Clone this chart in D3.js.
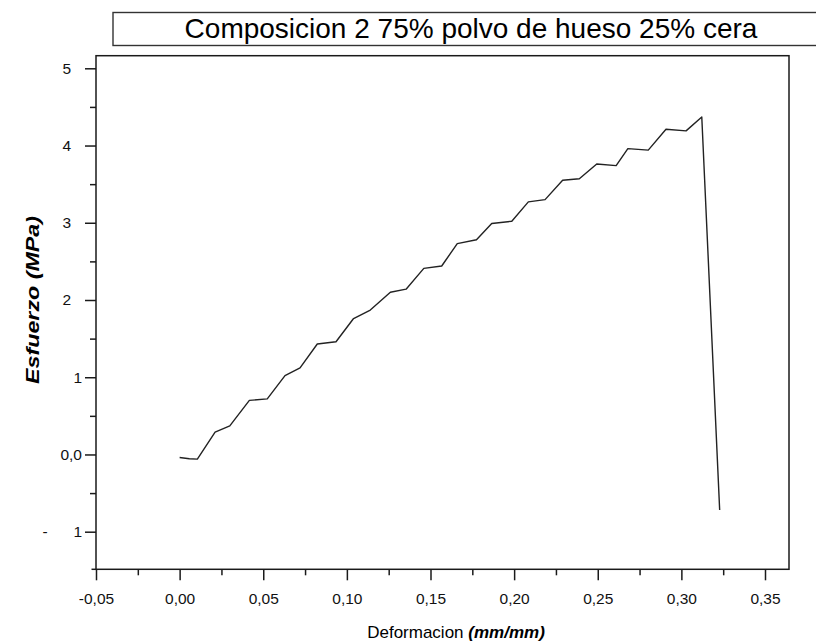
<!DOCTYPE html>
<html>
<head>
<meta charset="utf-8">
<script src="https://cdn.jsdelivr.net/npm/d3@7/dist/d3.min.js"></script>
<style>
  html, body { margin: 0; padding: 0; background: #fff; }
  svg { display: block; font-family: Arial, "Liberation Sans", sans-serif; }
</style>
</head>
<body>
<svg id="chart" width="816" height="644"></svg>
<script>
// ---- data ----
const strain = [0.000, 0.0058, 0.0106, 0.0212, 0.030, 0.0417, 0.0524, 0.063, 0.072, 0.0823,
  0.0935, 0.104, 0.114, 0.126, 0.1354, 0.146, 0.1567, 0.166, 0.1775, 0.1866,
  0.1986, 0.2085, 0.2185, 0.229, 0.239, 0.2494, 0.261, 0.268, 0.2802, 0.2908,
  0.3028, 0.3122, 0.3229];
const stress = [-0.04, -0.055, -0.06, 0.29, 0.37, 0.70, 0.72, 1.02, 1.12, 1.43,
  1.46, 1.76, 1.87, 2.10, 2.14, 2.41, 2.44, 2.73, 2.78, 2.99,
  3.02, 3.27, 3.30, 3.55, 3.57, 3.76, 3.74, 3.96, 3.94, 4.21,
  4.19, 4.37, -0.72];
const xTicks = [-0.05, 0.00, 0.05, 0.10, 0.15, 0.20, 0.25, 0.30, 0.35];
const xTickLabels = ["-0,05", "0,00", "0,05", "0,10", "0,15", "0,20", "0,25", "0,30", "0,35"];
const xMinorTicks = [-0.025, 0.025, 0.075, 0.125, 0.175, 0.225, 0.275, 0.325];
const yTicks = [-1, 0, 1, 2, 3, 4, 5];
const yTickLabels = ["-      1", "0,0", "1", "2", "3", "4", "5"];
const yMinorTicks = [-0.5, 0.5, 1.5, 2.5, 3.5, 4.5];
const title = "Composicion 2 75% polvo de hueso 25% cera";
const xTitleMain = "Deformacion ";
const xTitleUnit = "(mm/mm)";
const yTitle = "Esfuerzo (MPa)";

// ---- layout ----
const svg = d3.select("#chart");
const L = 96, T = 55.7, R = 789, B = 569.3;
const x = d3.scaleLinear().domain([-0.05, 0.35]).range([L, 765]);
const y = d3.scaleLinear().domain([-1, 5]).range([531.7, 68.3]);
const ink = "#1a1a1a";
const tickFont = "Arial, 'Liberation Sans', sans-serif";

// title box
svg.append("rect").attr("x", 113).attr("y", 12.5).attr("width", 720).attr("height", 33)
  .attr("fill", "#fff").attr("stroke", "#333").attr("stroke-width", 1.4);
svg.append("text").attr("x", 471).attr("y", 38).attr("text-anchor", "middle")
  .attr("font-size", 28).attr("fill", "#000").text(title);

// frame
svg.append("rect").attr("x", L).attr("y", T).attr("width", R - L).attr("height", B - T)
  .attr("fill", "none").attr("stroke", ink).attr("stroke-width", 1.5);

// x axis
const xAxis = svg.append("g").attr("transform", `translate(0,${B})`)
  .call(d3.axisBottom(x).tickValues(xTicks).tickSize(11).tickPadding(13)
    .tickFormat((d, i) => xTickLabels[i]));
const xMinor = svg.append("g").attr("transform", `translate(0,${B})`)
  .call(d3.axisBottom(x).tickValues(xMinorTicks).tickSize(6).tickFormat(""));
// y axis
const yAxis = svg.append("g").attr("transform", `translate(${L},0)`)
  .call(d3.axisLeft(y).tickValues(yTicks).tickSize(11).tickPadding(3)
    .tickFormat((d, i) => yTickLabels[i]));
const yMinor = svg.append("g").attr("transform", `translate(${L},0)`)
  .call(d3.axisLeft(y).tickValues(yMinorTicks).tickSize(6).tickFormat(""));

[xAxis, xMinor, yAxis, yMinor].forEach(g => {
  g.select(".domain").remove();
  g.selectAll(".tick line").attr("stroke", ink).attr("stroke-width", 1.5);
});
xAxis.selectAll(".tick text").attr("font-size", 15.5).attr("fill", "#111")
  .attr("font-family", tickFont);
yAxis.selectAll(".tick text").attr("font-size", 15.5).attr("fill", "#111")
  .attr("font-family", tickFont)
  .attr("dx", d => (d >= 2 ? -11 : 0))
  .style("white-space", "pre");
// small extension of bottom axis to the left
svg.append("line").attr("x1", 91.5).attr("x2", L).attr("y1", B).attr("y2", B)
  .attr("stroke", ink).attr("stroke-width", 1.5);

// axis titles
const xt = svg.append("text").attr("x", 456).attr("y", 638).attr("text-anchor", "middle")
  .attr("font-size", 17).attr("fill", "#000");
xt.append("tspan").text(xTitleMain);
xt.append("tspan").attr("font-weight", "bold").attr("font-style", "italic").text(xTitleUnit);

svg.append("text").attr("transform", "translate(39,300) rotate(-90)")
  .attr("text-anchor", "middle").attr("font-size", 18).attr("font-weight", "bold")
  .attr("font-style", "italic").attr("fill", "#000")
  .attr("textLength", 168).attr("lengthAdjust", "spacingAndGlyphs").text(yTitle);

// curve
const pts = strain.map((s, i) => [s, stress[i]]);
const line = d3.line().x(d => x(d[0])).y(d => y(d[1]));
svg.append("path").datum(pts).attr("d", line).attr("fill", "none")
  .attr("stroke", "#222").attr("stroke-width", 1.4).attr("stroke-linejoin", "round");
</script>
</body>
</html>
